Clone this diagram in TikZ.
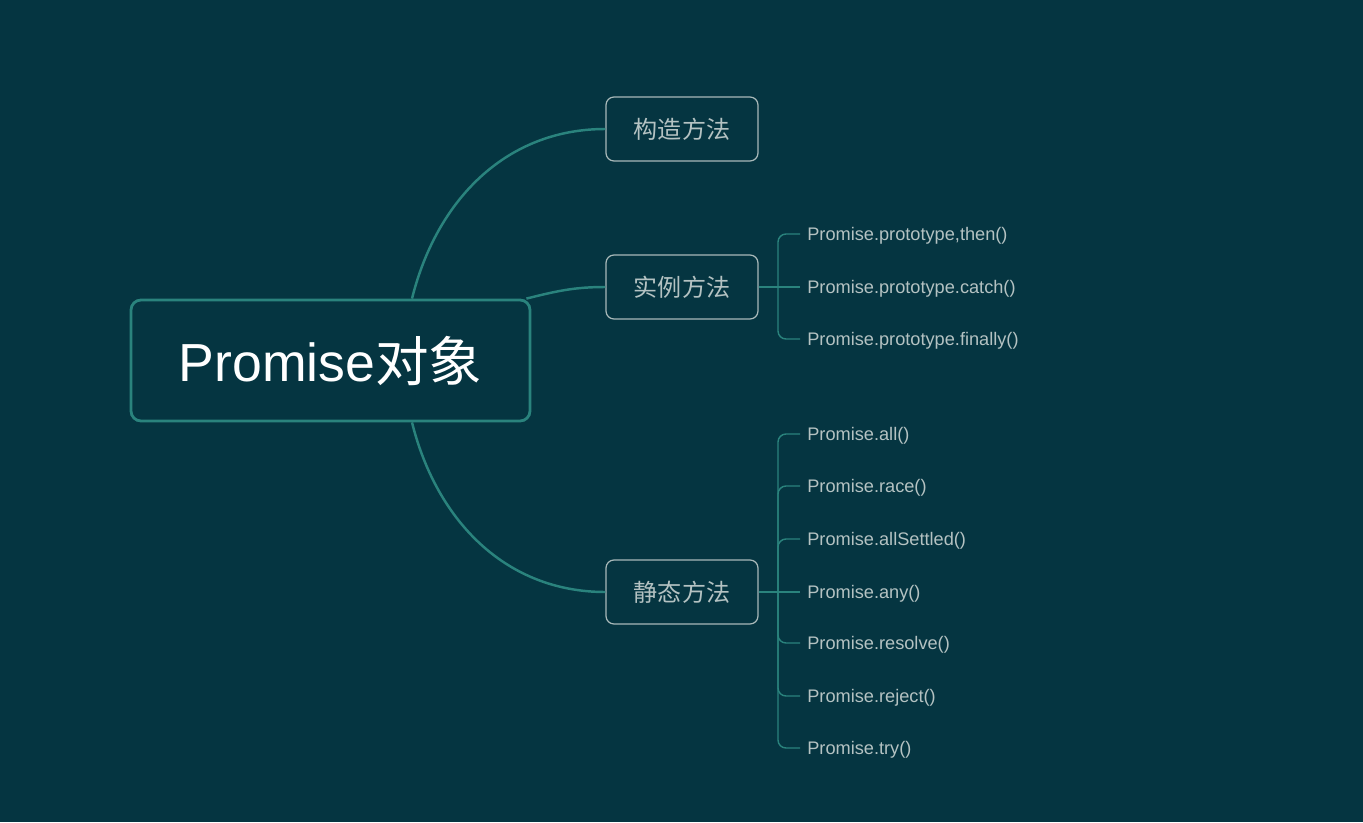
\documentclass[tikz,border=0pt]{standalone}
\usepackage{fontspec}
\setmainfont{Liberation Sans}
\newfontfamily\cjk{Noto Sans CJK SC}
\usetikzlibrary{positioning}
\definecolor{bgcol}{HTML}{053541}
\definecolor{tealline}{HTML}{2A837D}
\definecolor{greytext}{HTML}{B4C2C2}
\definecolor{greyedge}{HTML}{A9B9B9}

\begin{document}
\begin{tikzpicture}[root/.style={draw=tealline,line width=1.6pt,fill=bgcol,rounded corners=0.2cm,minimum width=7.98cm,minimum height=2.42cm,text=white,font=\fontsize{30.5}{36}\selectfont},branch/.style={draw=greyedge,line width=0.7pt,fill=bgcol,rounded corners=0.16cm,minimum width=3.04cm,minimum height=1.28cm,text=greytext,font=\cjk\fontsize{13.7}{16}\selectfont},leaf/.style={anchor=west,inner xsep=0.14cm,inner ysep=0pt,text height=0.72em,text depth=0pt,text=greytext,font=\fontsize{10.35}{12}\selectfont},link/.style={draw=tealline,line width=1.4pt},twig/.style={draw=tealline,line width=0.8pt,rounded corners=0.16cm}]
\fill[bgcol] (0,0) rectangle (27.26,16.44);
\useasboundingbox (0,0) rectangle (27.26,16.44);
\node[root] (root) at (6.61,9.23) {Promise{\cjk 对象}};
\node[branch] (ctor) at (13.64,13.86) {构造方法};
\node[branch] (inst) at (13.64,10.70) {实例方法};
\node[branch] (stat) at (13.64,4.60) {静态方法};
\draw[link] ([xshift=1.63cm]root.north) to[out=76,in=180] (ctor.west);
\draw[link] ([xshift=-0.1cm]root.north east) to[out=14,in=180] (inst.west);
\draw[link] ([xshift=1.63cm]root.south) to[out=-76,in=180] (stat.west);
% instance methods
\node[leaf] (i1) at (16.0,11.76) {Promise.prototype,then()};
\node[leaf] (i2) at (16.0,10.70) {Promise.prototype.catch()};
\node[leaf] (i3) at (16.0,9.66) {Promise.prototype.finally()};
\coordinate (ij) at (15.56,10.70);
\draw[twig] (inst.east) -- (i2.west);
\draw[twig] (i1.west) -| (ij) |- (i3.west);
% static methods
\node[leaf] (s1) at (16.0,7.76) {Promise.all()};
\node[leaf] (s2) at (16.0,6.72) {Promise.race()};
\node[leaf] (s3) at (16.0,5.66) {Promise.allSettled()};
\node[leaf] (s4) at (16.0,4.60) {Promise.any()};
\node[leaf] (s5) at (16.0,3.58) {Promise.resolve()};
\node[leaf] (s6) at (16.0,2.52) {Promise.reject()};
\node[leaf] (s7) at (16.0,1.48) {Promise.try()};
\coordinate (sj) at (15.56,4.60);
\draw[twig] (stat.east) -- (s4.west);
\draw[twig] (s1.west) -| (sj) |- (s7.west);
\draw[twig] (s2.west) -| (sj);
\draw[twig] (s3.west) -| (sj);
\draw[twig] (s5.west) -| (sj);
\draw[twig] (s6.west) -| (sj);
\end{tikzpicture}
\end{document}
